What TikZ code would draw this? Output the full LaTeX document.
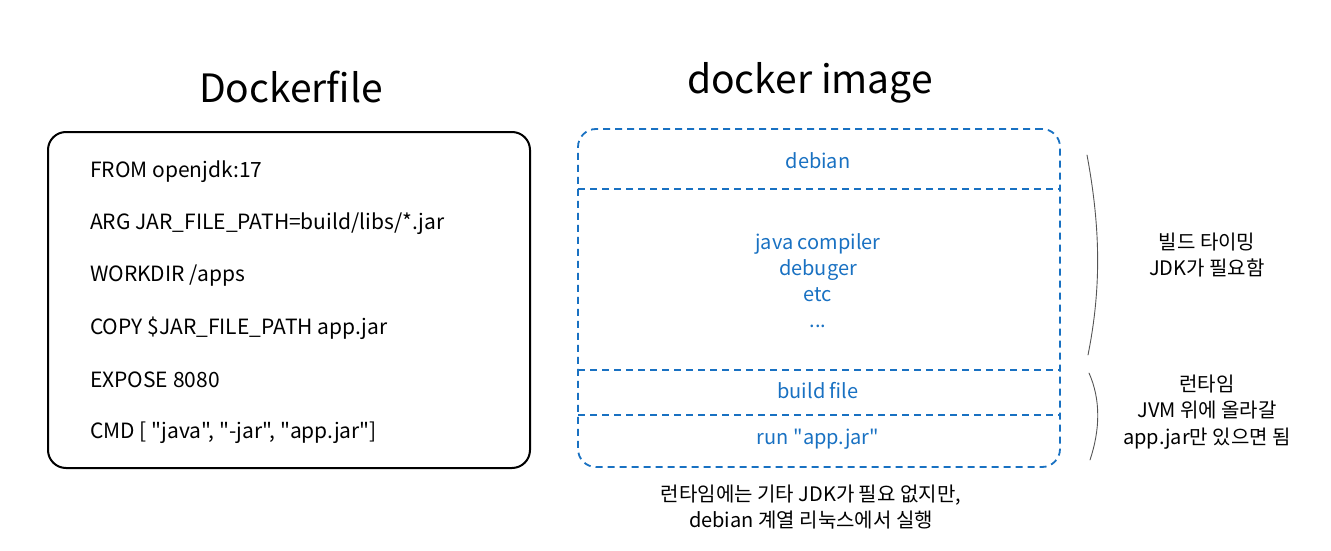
\documentclass[tikz,border=0pt]{standalone}
\usepackage{fontspec}
\setmainfont{Noto Sans CJK KR}[Ligatures=TeXOff]
\definecolor{exblue}{HTML}{1971C2}
\definecolor{braceg}{HTML}{555555}
\begin{document}
\begin{tikzpicture}[x=1pt,y=-1pt,
  title/.style={font=\fontsize{39}{44}\selectfont, inner sep=0pt},
  code/.style={font=\fontsize{21}{24}\selectfont, anchor=west, inner sep=0pt},
  layer/.style={font=\fontsize{20}{26}\selectfont, text=exblue, inner sep=0pt, align=center},
  note/.style={font=\fontsize{20}{26.5}\selectfont, inner sep=0pt, align=center},
  dashline/.style={draw=exblue, line width=1.8pt, dash pattern=on 7pt off 5pt},
  bracel/.style={draw=braceg, line width=0.9pt, line cap=round}]
\useasboundingbox (0,0) rectangle (1331,551);
% titles
\node[title] (t1) at (291,87) {Dockerfile};
\node[title] (t2) at (810,83) {docker image};
% Dockerfile box
\node[draw, line width=2pt, rounded corners=18pt, minimum width=482pt, minimum height=336pt] (dfbox) at (289,300) {};
\node[code] (l1) at (90,172) {FROM openjdk:17};
\node[code] (l2) at (90,224) {ARG JAR\_FILE\_PATH=build/libs/*.jar};
\node[code] (l3) at (90,276) {WORKDIR /apps};
\node[code] (l4) at (90,328) {COPY \$JAR\_FILE\_PATH app.jar};
\node[code] (l5) at (90,380) {EXPOSE 8080};
\node[code] (l6) at (90,433) {CMD [ "java", "-jar", "app.jar"]};
% docker image box
\node[dashline, rounded corners=18pt, minimum width=482pt, minimum height=338pt] (imgbox) at (819,298) {};
\draw[dashline] (578,189) -- (1060,189);
\draw[dashline] (578,370) -- (1060,370);
\draw[dashline] (578,415) -- (1060,415);
\node[layer] (deb) at (818,161) {debian};
\node[layer] (jdk) at (818,281) {java compiler\\debuger\\etc\\...};
\node[layer] (bf) at (818,391) {build file};
\node[layer] (run) at (818,439) {run "app.jar"};
% braces
\draw[bracel] (1087,155) .. controls (1101,230) and (1101,290) .. (1088,355);
\draw[bracel] (1089,373) .. controls (1101,400) and (1100,430) .. (1090,460);
% notes
\node[note] (n1) at (1207,255) {빌드 타이밍\\JDK가 필요함};
\node[note] (n2) at (1207,412) {런타임\\JVM 위에 올라갈\\app.jar만 있으면 됨};
\node[note] (n3) at (811,507) {런타임에는 기타 JDK가 필요 없지만,\\debian 계열 리눅스에서 실행};
\end{tikzpicture}
\end{document}
